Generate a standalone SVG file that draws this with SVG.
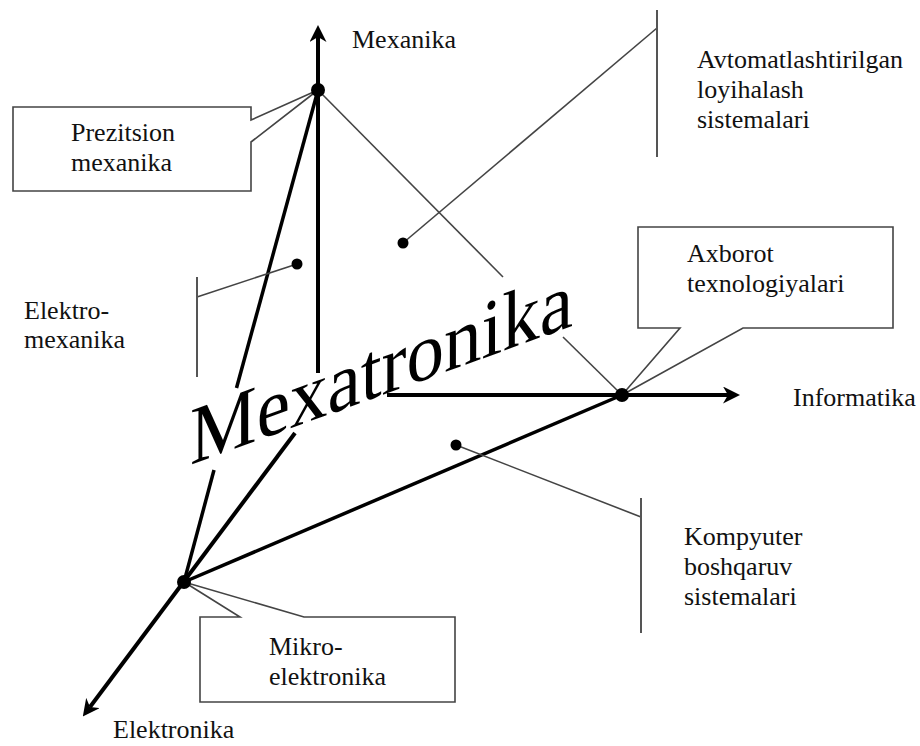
<svg xmlns="http://www.w3.org/2000/svg" width="920" height="746" viewBox="0 0 920 746">
<style>
  .lbl { font-family: "Liberation Serif", "Times New Roman", serif; font-size: 26px; fill: #111; }
  .big { font-family: "Liberation Serif", "Times New Roman", serif; font-size: 75px; fill: #000; }
  .axis { stroke: #000; stroke-width: 4; fill: none; }
  .thick { stroke: #000; stroke-width: 3.5; fill: none; }
  .thin { stroke: #444; stroke-width: 1.6; fill: none; }
  .bar { stroke: #555; stroke-width: 2; fill: none; }
  .box { stroke: #444; stroke-width: 1.6; fill: #fff; }
  .dot { fill: #000; }
</style>
<defs>
  <marker id="arrow" viewBox="0 0 17 17" refX="5" refY="8.5" markerWidth="17" markerHeight="17" markerUnits="userSpaceOnUse" orient="auto">
    <path d="M0,0 L17,8.5 L0,17 L5,8.5 Z" fill="#000"/>
  </marker>
</defs>
<rect width="920" height="746" fill="#fff"/>

<g id="connectors">
  <!-- axes -->
  <line class="axis" x1="318" y1="373" x2="318" y2="37" marker-end="url(#arrow)"/>
  <line class="axis" x1="387" y1="395" x2="728" y2="395" marker-end="url(#arrow)"/>
  <line class="axis" x1="295" y1="433" x2="90" y2="707" marker-end="url(#arrow)"/>
  <!-- triangle edges -->
  <line class="thick" x1="318" y1="90" x2="236.5" y2="388"/>
  <line class="thick" x1="214" y1="470" x2="184" y2="582"/>
  <line class="thick" x1="184" y1="582" x2="622" y2="395"/>
  <line class="thin" x1="318" y1="90" x2="503" y2="277"/>
  <line class="thin" x1="563" y1="337" x2="622" y2="395"/>
  <!-- leaders -->
  <line class="thin" x1="197" y1="297" x2="297" y2="264"/>
  <line class="thin" x1="657" y1="28" x2="403" y2="243"/>
  <line class="thin" x1="641" y1="517" x2="456" y2="445"/>
</g>

<g id="node-prezitsion">
  <path class="box" d="M318,90 L251,120 L251,107 L13,107 L13,191 L251,191 L251,142 Z"/>
  <text class="lbl" x="71" y="141">Prezitsion</text>
  <text class="lbl" x="71" y="171">mexanika</text>
</g>

<g id="node-axborot">
  <path class="box" d="M622,395 L680,328 L638,328 L638,227 L893,227 L893,328 L743,328 Z"/>
  <text class="lbl" x="687" y="262">Axborot</text>
  <text class="lbl" x="687" y="292">texnologiyalari</text>
</g>

<g id="node-mikro">
  <path class="box" d="M184,582 L240,617 L200,617 L200,702 L455,702 L455,617 L304,617 Z"/>
  <text class="lbl" x="269" y="655">Mikro-</text>
  <text class="lbl" x="269" y="685">elektronika</text>
</g>

<g id="node-elektromexanika">
  <line class="bar" x1="197" y1="277" x2="197" y2="377"/>
  <circle class="dot" cx="297" cy="264" r="5.5"/>
  <text class="lbl" x="24" y="319">Elektro-</text>
  <text class="lbl" x="24" y="348">mexanika</text>
</g>

<g id="node-avtomat">
  <line class="bar" x1="657" y1="10" x2="657" y2="157"/>
  <circle class="dot" cx="403" cy="243" r="5.5"/>
  <text class="lbl" x="697" y="68">Avtomatlashtirilgan</text>
  <text class="lbl" x="697" y="98">loyihalash</text>
  <text class="lbl" x="697" y="128">sistemalari</text>
</g>

<g id="node-kompyuter">
  <line class="bar" x1="641" y1="498" x2="641" y2="633"/>
  <circle class="dot" cx="456" cy="445" r="5.5"/>
  <text class="lbl" x="684" y="545">Kompyuter</text>
  <text class="lbl" x="684" y="575">boshqaruv</text>
  <text class="lbl" x="684" y="605">sistemalari</text>
</g>

<g id="node-mexanika">
  <circle class="dot" cx="318" cy="90" r="7"/>
  <text class="lbl" x="352" y="48">Mexanika</text>
</g>

<g id="node-informatika">
  <circle class="dot" cx="622" cy="395" r="7"/>
  <text class="lbl" x="793" y="406">Informatika</text>
</g>

<g id="node-elektronika">
  <circle class="dot" cx="184" cy="582" r="7"/>
  <text class="lbl" x="113" y="738">Elektronika</text>
</g>

<g id="title">
  <text class="big" x="0" y="0" transform="translate(190 465) skewY(-20) scale(1 1.1)">Mexatronika</text>
</g>
</svg>
